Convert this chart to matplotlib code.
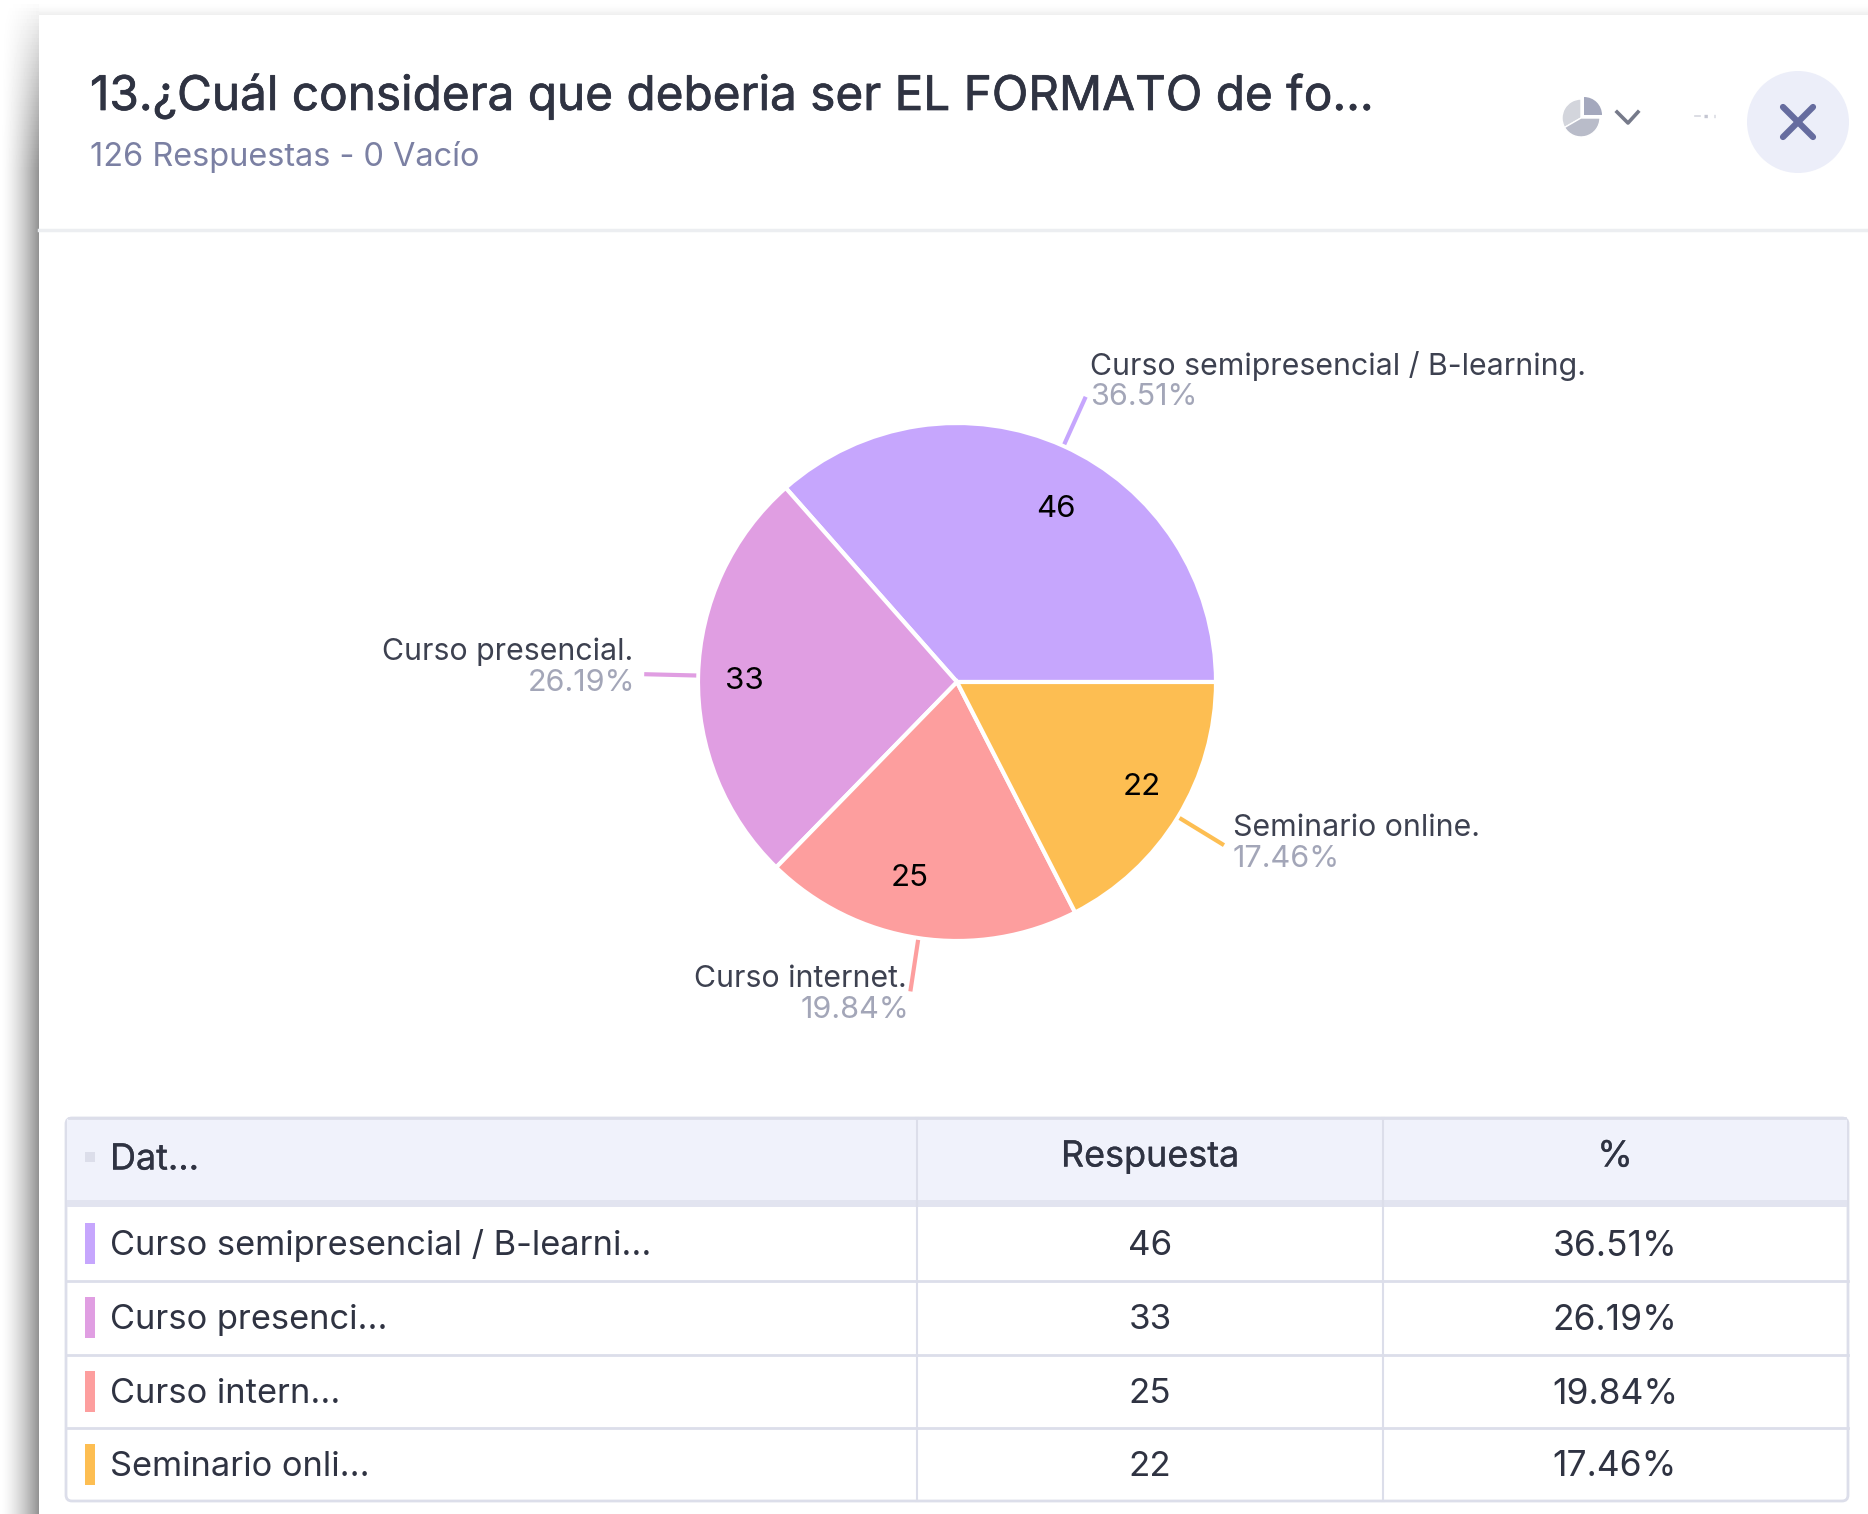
import numpy as np
from matplotlib import pyplot as plt
from matplotlib.patches import Circle, FancyBboxPatch, Rectangle, Wedge
from matplotlib import patheffects as pe

W, H = 1868, 1514

labels = ["Curso semipresencial / B-learning.", "Curso presencial.", "Curso internet.", "Seminario online."]
short_labels = ["Curso semipresencial / B-learni...", "Curso presenci...", "Curso intern...", "Seminario onli..."]
counts = [46, 33, 25, 22]
percents = ["36.51%", "26.19%", "19.84%", "17.46%"]
colors = ["#c6a6fd", "#e09ee2", "#fd9e9e", "#fdbe52"]

title = "13.¿Cuál considera que deberia ser EL FORMATO de fo..."
subtitle = "126 Respuestas - 0 Vacío"
headers = ["Dat...", "Respuesta", "%"]

DARK = "#2f3342"
medium = [pe.withStroke(linewidth=0.5, foreground=DARK)]
medium_small = [pe.withStroke(linewidth=0.2, foreground=DARK)]

plt.rcParams["font.family"] = ["Inter", "DejaVu Sans"]

fig = plt.figure(figsize=(W / 100, H / 100), dpi=100, facecolor="white")
ax = fig.add_axes([0, 0, 1, 1])
ax.set_xlim(0, W)
ax.set_ylim(H, 0)
ax.axis("off")

# window shadow
xs = np.linspace(0, 1, 39) ** 1.5
ys = np.clip(np.linspace(0, H, 400) / 170, 0, 1) ** 0.8
ax.imshow(1 - 0.42 * np.outer(ys, xs), cmap="gray", vmin=0, vmax=1, extent=[0, 39, H, 0], aspect="auto", zorder=0)
top = np.linspace(0, 1, 15) ** 2
ax.imshow(1 - 0.06 * top[:, None], cmap="gray", vmin=0, vmax=1, extent=[39, W, 15, 0], aspect="auto", zorder=0)
ax.set_xlim(0, W)
ax.set_ylim(H, 0)

# header
ax.text(90, 97, title, fontsize=34.35, color=DARK, va="center", ha="left", path_effects=medium)
ax.text(90, 157, subtitle, fontsize=23.4, color="#7b80a3", va="center", ha="left")
ax.plot([39, W], [230, 230], color="#eceef1", lw=2.5)

# icons
ax.add_patch(Circle((1798, 122), 51, color="#eceef9", lw=0))
ax.plot([1783, 1813], [107, 137], color="#666c9f", lw=4.5, solid_capstyle="round")
ax.plot([1783, 1813], [137, 107], color="#666c9f", lw=4.5, solid_capstyle="round")
# matplotlib wedges here live on an inverted y axis, so angles run clockwise on screen
ax.add_patch(Wedge((1581, 118), 19, 150, 270, color="#d3d5dc", ec="white", lw=1))
ax.add_patch(Wedge((1581, 118), 19, 0, 150, color="#b9bcc9", ec="white", lw=1))
ax.add_patch(Wedge((1584, 115), 18, 270, 360, color="#a4a8bd", lw=0))
ax.plot([1617, 1628, 1638], [112, 123, 112], color="#767a8a", lw=2.6)
ax.plot([1695, 1700], [116, 116], color="#d5d7df", lw=1.2)
ax.plot([1704, 1715], [116, 116], color="#c4c6d2", lw=2.4, ls=(0, (1, 2)))

# pie
cx, cy, r = 957, 682, 259
pie_ax = fig.add_axes([(cx - 1.3 * r) / W, 1 - (cy + 1.3 * r) / H, 2.6 * r / W, 2.6 * r / H])
wedges, _ = pie_ax.pie(
    counts,
    colors=colors,
    startangle=0,
    counterclock=True,
    radius=1,
    wedgeprops={"edgecolor": "white", "linewidth": 3},
)
pie_ax.set_xlim(-1.3, 1.3)
pie_ax.set_ylim(-1.3, 1.3)
pie_ax.axis("off")

for wedge, color, count in zip(wedges, colors, counts):
    mid = np.deg2rad((wedge.theta1 + wedge.theta2) / 2)
    pie_ax.plot(
        [1.015 * np.cos(mid), 1.2 * np.cos(mid)],
        [1.015 * np.sin(mid), 1.2 * np.sin(mid)],
        color=color, lw=3, clip_on=False,
    )
    pie_ax.text(0.75 * np.cos(mid) + np.sign(np.cos(mid)) * 0.072, 0.75 * np.sin(mid) - 0.015, str(count),
                fontsize=22.5, color="black", ha="center", va="center")

# pie labels
label_pos = [(1090, 366, "left"), (633, 652, "right"), (907, 979, "right"), (1233, 828, "left")]
for (x, y, ha), name, pct in zip(label_pos, labels, percents):
    ax.text(x, y, name, fontsize=21.8, color="#3d4150", ha=ha, va="center")
    pct_x = x + 2 if ha == "right" else x
    ax.text(pct_x, y + 31, pct, fontsize=22.0, color="#a3a6b8", ha=ha, va="center")

# table
tl, tr, tt, tb = 66, 1848, 1118, 1501
col1, col2 = 917, 1383
line = "#dcdeea"
ax.add_patch(FancyBboxPatch((tl, tt), tr - tl, tb - tt, boxstyle="round,pad=0,rounding_size=6",
                            facecolor="white", edgecolor=line, lw=2))
ax.add_patch(Rectangle((tl + 1, tt + 1), tr - tl - 2, 82, facecolor="#f0f2fb", lw=0))
ax.add_patch(Rectangle((tl + 1, 1200), tr - tl - 2, 7, facecolor="#e2e4f0", lw=0))
ax.plot([tl + 3, tr - 3], [tt, tt], color=line, lw=2)
for y in [1281, 1355, 1428]:
    ax.plot([tl, tr], [y, y], color=line, lw=2)
ax.plot([col1, col1], [tt, tb], color=line, lw=1.5)
ax.plot([col2, col2], [tt, tb], color=line, lw=1.5)

ax.add_patch(Rectangle((85, 1152), 10, 10, facecolor="#dcdeea", lw=0))
ax.text(110, 1160, headers[0], fontsize=25.9, color=DARK, va="center", path_effects=medium_small)
ax.text(1150, 1157, headers[1], fontsize=25.9, color=DARK, va="center", ha="center", path_effects=medium_small)
ax.text(1615, 1157, headers[2], fontsize=25.9, color=DARK, va="center", ha="center", path_effects=medium_small)

row_y = [1246, 1320, 1394, 1467]
for y, name, count, pct, color in zip(row_y, short_labels, counts, percents, colors):
    ax.add_patch(Rectangle((85, y - 23), 10, 41, facecolor=color, lw=0))
    ax.text(110, y, name, fontsize=24.8, color=DARK, va="center")
    ax.text(1150, y, str(count), fontsize=25.2, color=DARK, va="center", ha="center")
    ax.text(1615, y, pct, fontsize=25.5, color=DARK, va="center", ha="center")

fig.savefig("out.png", dpi=100)
